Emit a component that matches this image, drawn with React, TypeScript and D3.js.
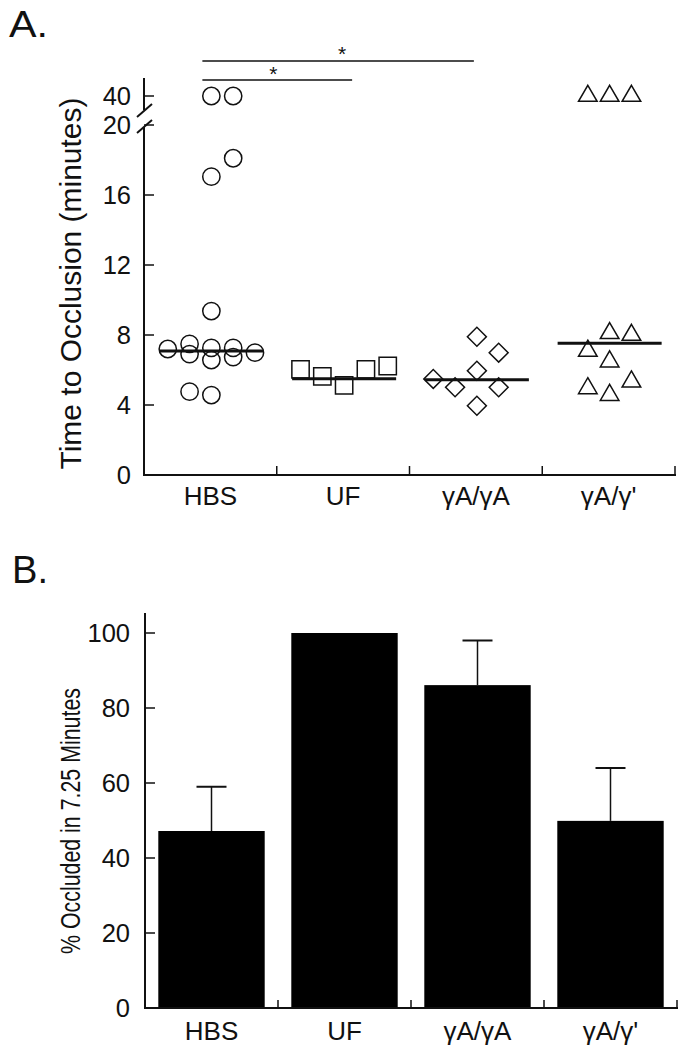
import React from 'react';
import * as d3 from 'd3';

const categories = ['HBS', 'UF', 'γA/γA', "γA/γ'"];

// Panel A: time to occlusion (minutes); slots = column position within the group
const hbsValues = [40, 40, 18.1, 17.05, 9.37, 7.2, 7.49, 6.91, 7.26, 6.57, 7.26, 6.74, 6.99, 4.76, 4.57];
const hbsSlots = [0, 1, 1, 0, 0, -2, -1, -1, 0, 0, 1, 1, 2, -1, 0];
const ufValues = [6.04, 5.64, 5.12, 6.04, 6.23];
const ufSlots = [-2, -1, 0, 1, 2];
const gaValues = [5.49, 5.01, 7.9, 5.96, 3.96, 6.99, 5.01];
const gaSlots = [-2, -1, 0, 0, 0, 1, 1];
const gpValues = [7.09, 4.95, 40, 8.1, 6.48, 4.57, 40, 8.0, 5.33, 40];
const gpSlots = [-1, -1, -1, 0, 0, 0, 0, 1, 1, 1];
const medians = [7.09, 5.5, 5.45, 7.53];
const timeTicks = [0, 4, 8, 12, 16, 20, 40];

// Panel B: % occluded in 7.25 minutes
const occludedPct = [47.2, 100, 86.1, 49.9];
const occludedErr = [11.8, 0, 11.9, 14.1];
const pctTicks = [0, 20, 40, 60, 80, 100];

const FONT = '"Liberation Sans", Arial, Helvetica, sans-serif';
const INK = '#111';

export default function App() {
  // ---------- Panel A scales ----------
  const xA = d3.scaleBand<string>().domain(categories).range([144, 675]).padding(0);
  const yA = d3.scaleLinear().domain([0, 20, 40]).range([475, 125, 96]);
  const slotStep = 21.8;

  const groups = [
    { cat: categories[0], values: hbsValues, slots: hbsSlots, shape: 'circle' },
    { cat: categories[1], values: ufValues, slots: ufSlots, shape: 'square' },
    { cat: categories[2], values: gaValues, slots: gaSlots, shape: 'diamond' },
    { cat: categories[3], values: gpValues, slots: gpSlots, shape: 'triangle' },
  ];

  const sym = {
    circle: d3.symbol(d3.symbolCircle, 235)(),
    square: d3.symbol(d3.symbolSquare, 300)(),
    diamond: d3.symbol(d3.symbolSquare, 180)(),
    triangle: d3.symbol(d3.symbolTriangle, 150)(),
  } as Record<string, string>;

  const cx = (cat: string) => (xA(cat) as number) + xA.bandwidth() / 2;

  // ---------- Panel B scales ----------
  const xB = d3.scaleBand<string>().domain(categories).range([145, 677]).paddingInner(0.2).paddingOuter(0.1);
  const yB = d3.scaleLinear().domain([0, 100]).range([1008, 633]);

  const boundariesA = categories.map((c) => (xA(c) as number) + xA.bandwidth());
  const boundariesB = categories.map((_, i) => 145 + (i + 1) * xB.step());

  return (
    <svg width={679} height={1050} style={{ position: 'absolute', left: 0, top: 0, background: '#fff' }} fontFamily={FONT}>
      <rect x={0} y={0} width={679} height={1050} fill="#fff" />
      {/* Panel labels */}
      <text x={9} y={37} fontSize={36} fill={INK} textLength={39} lengthAdjust="spacingAndGlyphs">A.</text>
      <text x={12} y={583} fontSize={38} fill={INK} textLength={36} lengthAdjust="spacingAndGlyphs">B.</text>

      {/* ================= Panel A ================= */}
      {/* y axis with break */}
      <line x1={144} x2={144} y1={yA(0)} y2={127} stroke={INK} strokeWidth={2} />
      <line x1={144} x2={144} y1={110} y2={78} stroke={INK} strokeWidth={2} />
      <line x1={137} x2={152} y1={117} y2={104} stroke={INK} strokeWidth={2} />
      <line x1={137} x2={152} y1={133} y2={120} stroke={INK} strokeWidth={2} />
      {timeTicks.map((t) => (
        <g key={'ta' + t}>
          <line x1={144} x2={154} y1={yA(t)} y2={yA(t)} stroke={INK} strokeWidth={1.5} />
          <text x={131} y={yA(t)} dy="0.36em" textAnchor="end" fontSize={25.5} fill={INK}>{t}</text>
        </g>
      ))}
      {/* x axis */}
      <line x1={143} x2={676} y1={475} y2={475} stroke={INK} strokeWidth={2} />
      {boundariesA.map((b, i) => (
        <line key={'xa' + i} x1={b} x2={b} y1={475} y2={466} stroke={INK} strokeWidth={1.5} />
      ))}
      {categories.map((c) => (
        <text key={'la' + c} x={cx(c)} y={505} textAnchor="middle" fontSize={26} fill={INK}>{c}</text>
      ))}
      <text transform={`translate(81,${283.5}) rotate(-90)`} textAnchor="middle" fontSize={29} fill={INK}
        textLength={372} lengthAdjust="spacingAndGlyphs">
        Time to Occlusion (minutes)
      </text>

      {/* points */}
      {groups.map((g) =>
        g.values.map((v, i) => {
          const x = cx(g.cat) + 1 + g.slots[i] * slotStep;
          const y = yA(v);
          const rot = g.shape === 'diamond' ? ' rotate(45)' : '';
          return (
            <path
              key={g.cat + i}
              d={sym[g.shape]}
              transform={`translate(${x},${y})${rot}`}
              fill="none"
              stroke={INK}
              strokeWidth={1.5}
            />
          );
        })
      )}
      {/* medians */}
      {categories.map((c, i) => (
        <line key={'m' + c} x1={cx(c) - 51} x2={cx(c) + 53} y1={yA(medians[i])} y2={yA(medians[i])} stroke={INK} strokeWidth={3} />
      ))}
      {/* significance */}
      <line x1={cx(categories[0]) - 8} x2={cx(categories[1]) + 9} y1={80} y2={80} stroke={INK} strokeWidth={1.5} />
      <text x={(cx(categories[0]) - 8 + cx(categories[1]) + 9) / 2 - 4} y={81} textAnchor="middle" fontSize={21} fill={INK}>*</text>
      <line x1={cx(categories[0]) - 8} x2={cx(categories[2]) - 2} y1={61} y2={61} stroke={INK} strokeWidth={1.5} />
      <text x={(cx(categories[0]) - 8 + cx(categories[2]) - 2) / 2 + 4} y={61} textAnchor="middle" fontSize={21} fill={INK}>*</text>

      {/* ================= Panel B ================= */}
      {categories.map((c, i) => {
        const x0 = xB(c) as number;
        const w = xB.bandwidth();
        const top = yB(occludedPct[i]);
        const errTop = yB(occludedPct[i] + occludedErr[i]);
        return (
          <g key={'b' + c}>
            {occludedErr[i] > 0 && (
              <>
                <line x1={x0 + w / 2} x2={x0 + w / 2} y1={top} y2={errTop} stroke={INK} strokeWidth={1.5} />
                <line x1={x0 + w / 2 - 15} x2={x0 + w / 2 + 15} y1={errTop} y2={errTop} stroke={INK} strokeWidth={2} />
              </>
            )}
            <rect x={x0} y={top} width={w} height={yB(0) - top} fill="#000" />
          </g>
        );
      })}
      <line x1={145} x2={145} y1={yB(0)} y2={613} stroke={INK} strokeWidth={2} />
      {pctTicks.map((t) => (
        <g key={'tb' + t}>
          <line x1={145} x2={155} y1={yB(t)} y2={yB(t)} stroke={INK} strokeWidth={1.5} />
          <text x={130} y={yB(t)} dy="0.36em" textAnchor="end" fontSize={25.5} fill={INK}>{t}</text>
        </g>
      ))}
      <line x1={144} x2={678} y1={yB(0)} y2={yB(0)} stroke={INK} strokeWidth={2} />
      {boundariesB.map((b, i) => (
        <line key={'xb' + i} x1={b} x2={b} y1={yB(0)} y2={yB(0) - 8} stroke={INK} strokeWidth={1.5} />
      ))}
      {categories.map((c) => (
        <text key={'lb' + c} x={(xB(c) as number) + xB.bandwidth() / 2} y={1040} textAnchor="middle" fontSize={26} fill={INK}>{c}</text>
      ))}
      <text transform={`translate(80,${821}) rotate(-90)`} textAnchor="middle" fontSize={27.5} fill={INK}
        textLength={266} lengthAdjust="spacingAndGlyphs">
        % Occluded in 7.25 Minutes
      </text>
    </svg>
  );
}
